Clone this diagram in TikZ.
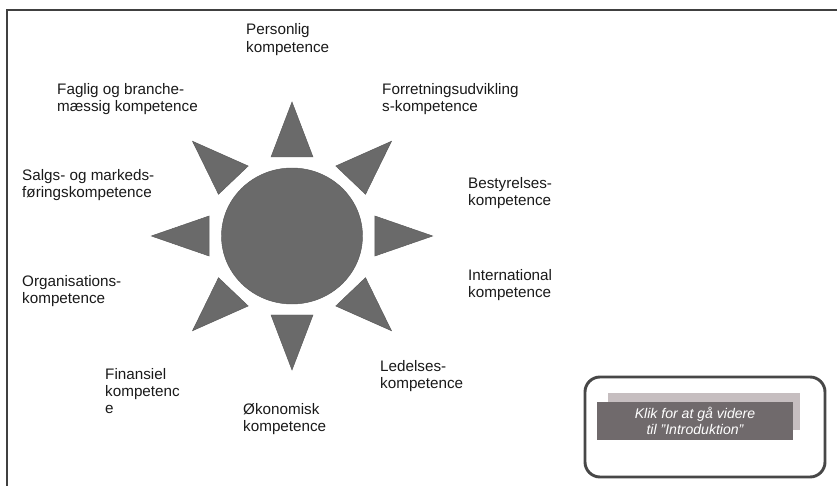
\documentclass[tikz,border=0pt]{standalone}
\usepackage{fontspec}
\setmainfont{Liberation Sans}
\usetikzlibrary{shapes.geometric}
\definecolor{sungray}{RGB}{106,106,106}
\definecolor{btnfill}{RGB}{112,106,108}
\definecolor{btnshadow}{RGB}{198,190,192}

\begin{document}
\begin{tikzpicture}[x=0.03cm,y=-0.03cm,
	lbl/.style={anchor=west,align=left,inner sep=0pt,text=black!90,font=\fontsize{13}{14.8}\selectfont},
	sunball/.style={ellipse,fill=sungray,draw=black!65,minimum width=4.23cm,minimum height=4.08cm,inner sep=0pt},
	ray/.style={fill=sungray,draw=black!65},
	btnframe/.style={rounded corners=0.45cm,draw=black!72,line width=2.5pt,minimum width=7.2cm,minimum height=3cm},
	btnback/.style={fill=btnshadow,minimum width=5.76cm,minimum height=1.11cm},
	btnfront/.style={fill=btnfill,minimum width=5.88cm,minimum height=1.14cm,align=center,text=white,inner sep=0pt,font=\itshape\fontsize{12}{13.5}\selectfont}]

\useasboundingbox (0,0) rectangle (837,486);
\draw[black!75,line width=1.2pt] (837,10) -| (7,486);

\node[sunball] (sun) at (292,236) {};
	\foreach \a in {0,45,...,315}
		\filldraw[ray,shift={(sun.center)},xscale=1.05,rotate=\a] (79,-20) -- (134,0) -- (79,20) -- cycle;

\node[lbl] (pers)  at (246,39.5)  {Personlig\\kompetence};
 \node[lbl] (fagl)  at (57,99)    {Faglig og branche-\\mæssig kompetence};
\node[lbl] (forr)  at (382,99)   {Forretningsudvikling\\s-kompetence};
	\node[lbl] (salg)  at (22,185)   {Salgs- og markeds-\\føringskompetence};
\node[lbl] (best)  at (468,193)  {Bestyrelses-\\kompetence};
\node[lbl] (orga)  at (22,291)   {Organisations-\\kompetence};
	\node[lbl] (intl)  at (468,285)  {International\\kompetence};
\node[lbl] (fina)  at (105,391)  {Finansiel\\kompetenc\\e};
\node[lbl] (lede)  at (380,376)  {Ledelses-\\kompetence};
 \node[lbl] (okon)  at (243,419)  {Økonomisk\\kompetence};

\node[btnframe] (btn) at (705,427) {};
	\node[btnback] (btnshade) at (704,411.5) {};
\node[btnfront] (btntext) at (695,421) {Klik for at gå videre\\til "Introduktion"};

\end{tikzpicture}
\end{document}
